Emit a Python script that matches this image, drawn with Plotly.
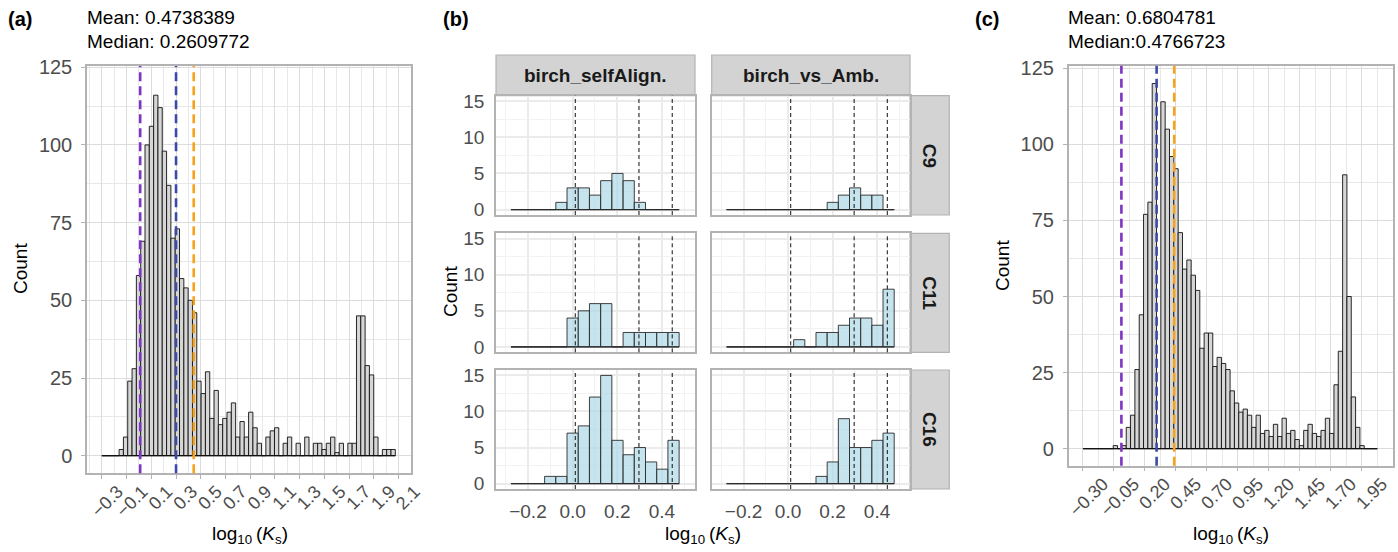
import plotly.graph_objects as go

W, H = 1398, 552
FONT = "Liberation Sans, Arial, sans-serif"

# ---------------- data ----------------
AC_BIN_START = -0.30
AC_BIN_WIDTH = 0.0349
A_COUNTS = [0, 0, 0, 0, 2, 6, 24, 28, 58, 69, 100, 106, 116, 112, 98, 87, 70, 73, 57, 54,
            50, 46, 24, 20, 27, 12, 21, 10, 12, 14, 17, 6, 11, 6, 14, 9, 4, 0, 6, 8,
            9, 0, 4, 6, 0, 4, 0, 6, 0, 4, 4, 2, 4, 6, 1, 4, 0, 4, 4, 45,
            45, 29, 26, 6, 0, 2, 2, 2]
C_COUNTS = [0, 0, 0, 0, 0, 0, 0, 1, 0, 1, 7, 11, 26, 44, 77, 81, 120, 0, 114, 105,
            96, 92, 71, 59, 62, 57, 52, 33, 38, 38, 27, 30, 28, 26, 19, 15, 12, 13, 11, 7,
            11, 5, 6, 4, 8, 4, 10, 5, 6, 3, 1, 6, 8, 5, 4, 6, 10, 5, 21, 32,
            90, 50, 17, 7, 1, 0, 0, 0]
A_VLINES = [0.01, 0.30, 0.443]
C_VLINES = [0.01, 0.294, 0.436]
AC_VLINE_COLORS = ["#7E35C1", "#3A4AA6", "#F7A21E"]
A_MEAN, A_MEDIAN = "0.4738389", "0.2609772"
C_MEAN, C_MEDIAN = "0.6804781", "0.4766723"

B_BIN_START = -0.276
B_BIN_WIDTH = 0.0502
B_COLS = ["birch_selfAlign.", "birch_vs_Amb."]
B_ROWS = ["C9", "C11", "C16"]
B_SELF_C9 = [0, 0, 0, 0, 1, 3, 3, 2, 4, 5, 4, 1, 0, 0, 0]
B_AMB_C9 = [0, 0, 0, 0, 0, 0, 0, 0, 0, 1, 2, 3, 2, 2, 0]
B_SELF_C11 = [0, 0, 0, 0, 0, 4, 5, 6, 6, 0, 2, 2, 2, 2, 2]
B_AMB_C11 = [0, 0, 0, 0, 0, 0, 1, 0, 2, 2, 3, 4, 4, 3, 8]
B_SELF_C16 = [0, 0, 0, 1, 1, 7, 8, 12, 15, 6, 4, 5, 3, 2, 6]
B_AMB_C16 = [0, 0, 0, 0, 0, 0, 0, 0, 1, 3, 9, 5, 5, 6, 7]
B_VLINES = [0.012, 0.297, 0.446]

A_XTICK0, A_XDTICK = -0.3, 0.2
C_XTICK0, C_XDTICK = -0.30, 0.25
B_XTICK0, B_XDTICK = -0.2, 0.2

# ---------------- helpers ----------------
def fx(p):
    return p / W


def fy(p):
    return 1 - p / H


fig = go.Figure()
shapes = []
annotations = []

GRID_AC = "#DCDCDC"
GRID_AC_MINOR = "#E8E8E8"
BORDER = "#B3B3B3"
TICKTXT = "#4D4D4D"


def add_hist(counts, start, width, ax, fill, edge, edgew):
    n = len(counts)
    centers = [start + (i + 0.5) * width for i in range(n)]
    fig.add_trace(go.Bar(x=centers, y=counts, width=[width] * n,
                         marker=dict(color=fill, line=dict(color=edge, width=edgew)),
                         xaxis="x" + ax, yaxis="y" + ax, showlegend=False,
                         hoverinfo="skip"))
    fig.add_trace(go.Scatter(x=[start, start + n * width], y=[0, 0], mode="lines",
                             line=dict(color=edge, width=edgew + 0.4),
                             xaxis="x" + ax, yaxis="y" + ax, showlegend=False,
                             hoverinfo="skip"))


def vlines(ax, xs, colors, width, dash):
    for xv, col in zip(xs, colors):
        shapes.append(dict(type="line", xref="x" + ax, yref="y" + ax + " domain",
                           x0=xv, x1=xv, y0=0, y1=1,
                           line=dict(color=col, width=width, dash=dash)))


layout_axes = {}


def axname(kind, ax):
    return kind + "axis" + ax if ax != "" else kind + "axis"


# ---------------- panel (a) ----------------
add_hist(A_COUNTS, AC_BIN_START, AC_BIN_WIDTH, "", "#D6D6D6", "#111111", 0.9)
vlines("", A_VLINES, AC_VLINE_COLORS, 2.6, "9px,5px")
# ---------------- panel (c) ----------------
add_hist(C_COUNTS, AC_BIN_START, AC_BIN_WIDTH, "8", "#D6D6D6", "#111111", 0.9)
vlines("8", C_VLINES, AC_VLINE_COLORS, 2.6, "9px,5px")

# ---------------- panel (b) ----------------
B_DATA = [[B_SELF_C9, B_AMB_C9], [B_SELF_C11, B_AMB_C11], [B_SELF_C16, B_AMB_C16]]
B_COL_X = [(496, 695), (711.7, 910)]
B_ROW_Y = [(95.7, 215), (233.3, 352.3), (370, 489)]
for r in range(3):
    for c in range(2):
        ax = str(2 + r * 2 + c)
        add_hist(B_DATA[r][c], B_BIN_START, B_BIN_WIDTH, ax,
                 "rgba(173,216,230,0.7)", "#2B2B2B", 0.9)
        vlines(ax, B_VLINES, ["#111111"] * 3, 1.0, "4px,3px")


def ac_axes(ax, xdom, ydom, xr, yr, tick0, dtick, fmt, shift):
    layout_axes[axname("x", ax)] = dict(
        domain=[fx(xdom[0]), fx(xdom[1])], range=xr, anchor="y" + ax,
        automargin=False,
        tickmode="linear", tick0=tick0, dtick=dtick, tickformat=fmt,
        tickangle=-45, ticks="outside", ticklen=4, tickcolor=BORDER, tickwidth=1.2,
        tickfont=dict(size=18, color=TICKTXT, family=FONT),
        ticklabelshift=shift, ticklabelstandoff=-5,
        showgrid=True, gridcolor=GRID_AC, gridwidth=1.3,
        minor=dict(tickmode="linear", tick0=tick0, dtick=dtick / 2, showgrid=True,
                   gridcolor=GRID_AC_MINOR, gridwidth=0.8),
        showline=True, mirror=True, linecolor=BORDER, linewidth=1.5,
        zeroline=False)
    layout_axes[axname("y", ax)] = dict(
        domain=[fy(ydom[1]), fy(ydom[0])], range=yr, anchor="x" + ax,
        automargin=False,
        tickmode="linear", tick0=0, dtick=25,
        ticks="outside", ticklen=4, tickcolor=BORDER, tickwidth=1.2,
        tickfont=dict(size=20, color=TICKTXT, family=FONT), ticklabelstandoff=5,
        showgrid=True, gridcolor=GRID_AC, gridwidth=1.3,
        minor=dict(tickmode="linear", tick0=0, dtick=12.5, showgrid=True,
                   gridcolor=GRID_AC_MINOR, gridwidth=0.8),
        showline=True, mirror=True, linecolor=BORDER, linewidth=1.5,
        zeroline=False)


ac_axes("", (87, 411), (66, 473.3), [-0.42, 2.20], [-5.66, 125.4], A_XTICK0, A_XDTICK, ".1f", 16)
ac_axes("8", (1068.7, 1392.7), (65.7, 465.7), [-0.415, 2.198], [-5.6, 125.85], C_XTICK0, C_XDTICK, ".2f", 20)

for r in range(3):
    for c in range(2):
        ax = str(2 + r * 2 + c)
        layout_axes[axname("x", ax)] = dict(
            domain=[fx(B_COL_X[c][0]), fx(B_COL_X[c][1])], range=[-0.343, 0.548],
            anchor="y" + ax, automargin=False,
            tickmode="linear", tick0=B_XTICK0, dtick=B_XDTICK,
            tickformat=".1f", ticks="", showticklabels=(r == 2),
            tickfont=dict(size=19, color=TICKTXT, family=FONT), ticklabelstandoff=4,
            showgrid=True, gridcolor="#EBEBEB", gridwidth=2,
            minor=dict(tickmode="linear", tick0=-0.3, dtick=0.1, showgrid=True,
                       gridcolor="#F2F2F2", gridwidth=1),
            showline=True, mirror=True, linecolor=BORDER, linewidth=1.5, zeroline=False)
        layout_axes[axname("y", ax)] = dict(
            domain=[fy(B_ROW_Y[r][1]), fy(B_ROW_Y[r][0])], range=[-0.75, 15.75],
            anchor="x" + ax, automargin=False,
            tickmode="linear", tick0=0, dtick=5, ticks="",
            showticklabels=(c == 0),
            tickfont=dict(size=19, color=TICKTXT, family=FONT), ticklabelstandoff=6,
            showgrid=True, gridcolor="#EBEBEB", gridwidth=2,
            minor=dict(tickmode="linear", tick0=0, dtick=2.5, showgrid=True,
                       gridcolor="#F2F2F2", gridwidth=1),
            showline=True, mirror=True, linecolor=BORDER, linewidth=1.5, zeroline=False)

# strips
for c, lab in enumerate(B_COLS):
    x0, x1 = B_COL_X[c]
    shapes.append(dict(type="rect", xref="paper", yref="paper",
                       x0=fx(x0), x1=fx(x1), y0=fy(95.7), y1=fy(55),
                       fillcolor="#D3D3D3", line=dict(color=BORDER, width=1.2), layer="below"))
    annotations.append(dict(text="<b>" + lab + "</b>", xref="paper", yref="paper",
                            x=fx((x0 + x1) / 2), y=fy(75.5), showarrow=False,
                            font=dict(size=19, color="#1A1A1A", family=FONT),
                            xanchor="center", yanchor="middle"))
for r, lab in enumerate(B_ROWS):
    y0, y1 = B_ROW_Y[r]
    shapes.append(dict(type="rect", xref="paper", yref="paper",
                       x0=fx(910), x1=fx(949.3), y0=fy(y1), y1=fy(y0),
                       fillcolor="#D3D3D3", line=dict(color=BORDER, width=1.2), layer="below"))
    annotations.append(dict(text="<b>" + lab + "</b>", xref="paper", yref="paper",
                            x=fx(929.6), y=fy((y0 + y1) / 2), showarrow=False, textangle=90,
                            font=dict(size=19, color="#1A1A1A", family=FONT),
                            xanchor="center", yanchor="middle"))

# titles and axis labels
XLAB = "log<sub>10</sub>\u2009(<i>K</i><sub>s</sub>)"


def txt(text, x, y, size=19, xanchor="left", angle=0, bold=False, color="#000000"):
    annotations.append(dict(text=("<b>" + text + "</b>") if bold else text,
                            xref="paper", yref="paper", x=fx(x), y=fy(y),
                            showarrow=False, textangle=angle,
                            font=dict(size=size, color=color, family=FONT),
                            xanchor=xanchor, yanchor="middle"))


txt("(a)", 6, 19, size=20, bold=True)
txt("(b)", 441, 19, size=20, bold=True)
txt("(c)", 973, 19, size=20, bold=True)
txt("Mean: " + A_MEAN, 85, 17, size=19)
txt("Median: " + A_MEDIAN, 85, 41, size=19)
txt("Mean: " + C_MEAN, 1066, 17, size=19)
txt("Median:" + C_MEDIAN, 1066, 41, size=19)
txt("Count", 20, 269, xanchor="center", angle=-90)
txt("Count", 450, 292, xanchor="center", angle=-90)
txt("Count", 1003, 266, xanchor="center", angle=-90)
txt(XLAB, 250, 535, xanchor="center")
txt(XLAB, 703, 535, xanchor="center")
txt(XLAB, 1231, 535, xanchor="center")

fig.update_layout(
    width=W, height=H, autosize=False,
    margin=dict(l=0, r=0, t=0, b=0, pad=0),
    paper_bgcolor="white", plot_bgcolor="white",
    font=dict(family=FONT, color="#000000"),
    showlegend=False, shapes=shapes, annotations=annotations,
    **layout_axes)

fig.write_html("out.html", config={"displayModeBar": False},
               post_script="document.body.style.margin='0px';")
